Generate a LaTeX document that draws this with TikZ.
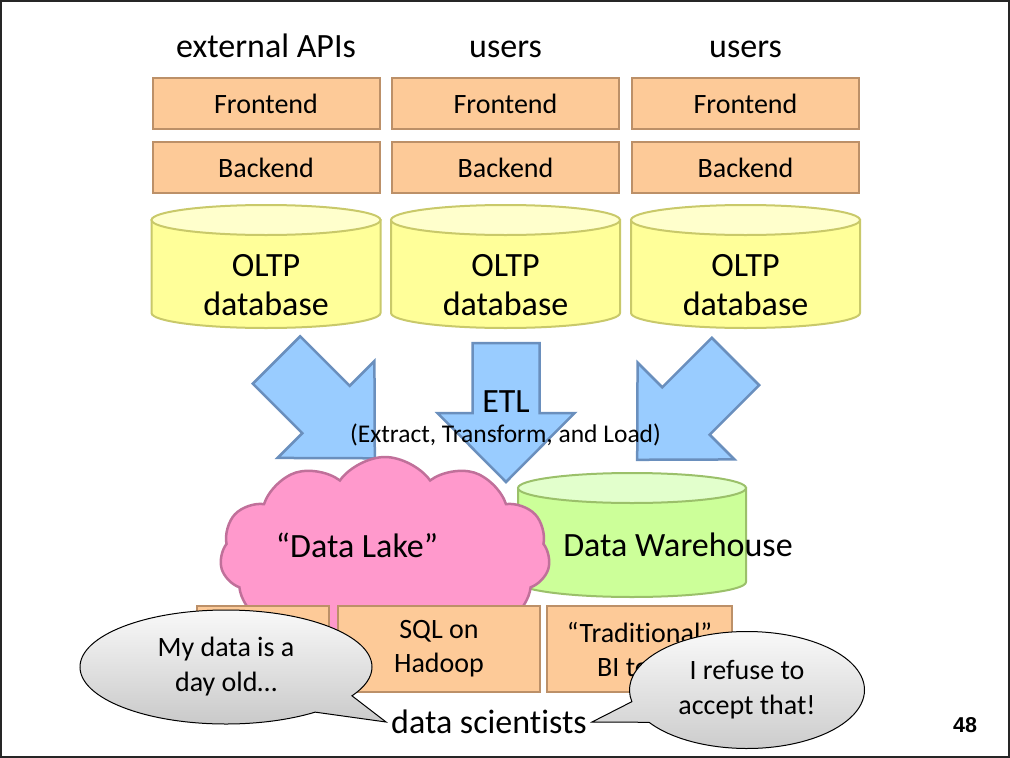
\documentclass[tikz,border=0pt]{standalone}
\usepackage{fontspec}
\setmainfont[Ligatures=NoCommon]{Carlito}
\newfontfamily\slidenumfont{Liberation Sans}
\usetikzlibrary{positioning, shapes.symbols, shapes.callouts}

\definecolor{tierfill}{HTML}{FDCA98}
\definecolor{tierline}{HTML}{BC9068}
\definecolor{oltpbody}{HTML}{FFFF99}
\definecolor{oltptop}{HTML}{FFFFCC}
\definecolor{oltpline}{HTML}{C9C96A}
\definecolor{etlfill}{HTML}{99CCFF}
\definecolor{etlline}{HTML}{6A8FBD}
\definecolor{lakefill}{HTML}{FF99CC}
\definecolor{lakeline}{HTML}{C0709A}
\definecolor{dwbody}{HTML}{CCFF99}
\definecolor{dwtop}{HTML}{E2FFCC}
\definecolor{dwline}{HTML}{9BC06A}

\tikzset{
    tier/.style={draw=tierline, fill=tierfill, line width=2pt, minimum width=227, minimum height=51, align=center, font=\fontsize{28}{34}\selectfont},
    etl/.style={draw=etlline, fill=etlfill, line width=2.5pt, line join=miter},
    bubble/.style={ellipse callout, draw=black, line width=1pt, top color=gray!5, bottom color=gray!42, callout pointer arc=22, align=center, font=\fontsize{28}{35}\selectfont},
    big/.style={font=\fontsize{34}{39}\selectfont}
}

% cylinder: x, top y, bottom y, half width, body, top, line
\newcommand{\dbcylinder}[7]{%
    \filldraw[fill=#5, draw=#7, line width=2pt] (#1-#4,#2) -- (#1-#4,#3) arc[start angle=180, end angle=360, x radius=#4pt, y radius=15pt] -- (#1+#4,#2) -- cycle;
    \filldraw[fill=#6, draw=#7, line width=2pt] (#1,#2) ellipse[x radius=#4pt, y radius=15pt];
}

% block arrow: tail centre, angle
\newcommand{\etlarrow}[2]{%
    \draw[etl, shift={#1}, rotate=#2] (0,33.5) -- (70,33.5) -- (70,68.5) -- (139,0) -- (70,-68.5) -- (70,-33.5) -- (0,-33.5) -- cycle;
}

\begin{document}
\begin{tikzpicture}[x=1pt, y=-1pt]
    \useasboundingbox (0,0) rectangle (1010,758);

    % Sources
    \foreach \cx/\src/\i in {266/external APIs/1, 505.5/users/2, 745.5/users/3} {
        \node[big, anchor=base] (src\i) at (\cx, 57) {\src};
        \node[tier] (fe\i) at (\cx, 103.5) {Frontend};
        \node[tier, below=11pt of fe\i] (be\i) {Backend};
        \dbcylinder{\cx}{220}{313}{114.5}{oltpbody}{oltptop}{oltpline}
        \node[big, align=center] (db\i) at (\cx, 285) {OLTP\\database};
    }

    % ETL arrows
    \etlarrow{(276.5,360)}{-45}
    \etlarrow{(506,343)}{-90}
    \etlarrow{(735.5,361.5)}{-135}
    \node[big] (etl) at (506,402) {ETL};
    \node[font=\fontsize{25.5}{30}\selectfont] (etldesc) at (505.5,435) {(Extract, Transform, and Load)};

    % Warehouse and lake
    \dbcylinder{632}{488}{582}{114}{dwbody}{dwtop}{dwline}
    \node[cloud, cloud puffs=11, cloud puff arc=110, cloud ignores aspect, minimum width=330, minimum height=196,
          draw=lakeline, fill=lakefill, line width=2.5pt] (lake) at (385,555) {};
    \node[big] (lakelbl) at (357,545) {“Data Lake”};
    \node[big] (dw) at (678,545) {Data Warehouse};

    % Tools
    \node[tier, minimum width=132, minimum height=86] (tool1) at (263,649) {};
    \node[tier, minimum width=202, minimum height=86] (tool2) at (439,649) {SQL on\\Hadoop};
    \node[tier, minimum width=185, minimum height=86] (tool3) at (639.5,649) {“Traditional”\\BI tools};

    % Data scientists
    \node[big, inner sep=5pt] (sci) at (489,722) {data scientists};
    \node[bubble, minimum width=292, minimum height=114, callout absolute pointer={(sci.west)}] (stale) at (226,667) {My data is a\\day old…};
    \node[bubble, minimum width=235, minimum height=117, callout absolute pointer={(sci.east)}] (refuse) at (747,690) {I refuse to\\accept that!};

    \node[font=\slidenumfont\bfseries\fontsize{21.5}{26}\selectfont] (pg) at (965,725) {48};

    % Frame
    \draw[line width=2pt, black!85] (1,1) rectangle (1009,757);
\end{tikzpicture}
\end{document}
